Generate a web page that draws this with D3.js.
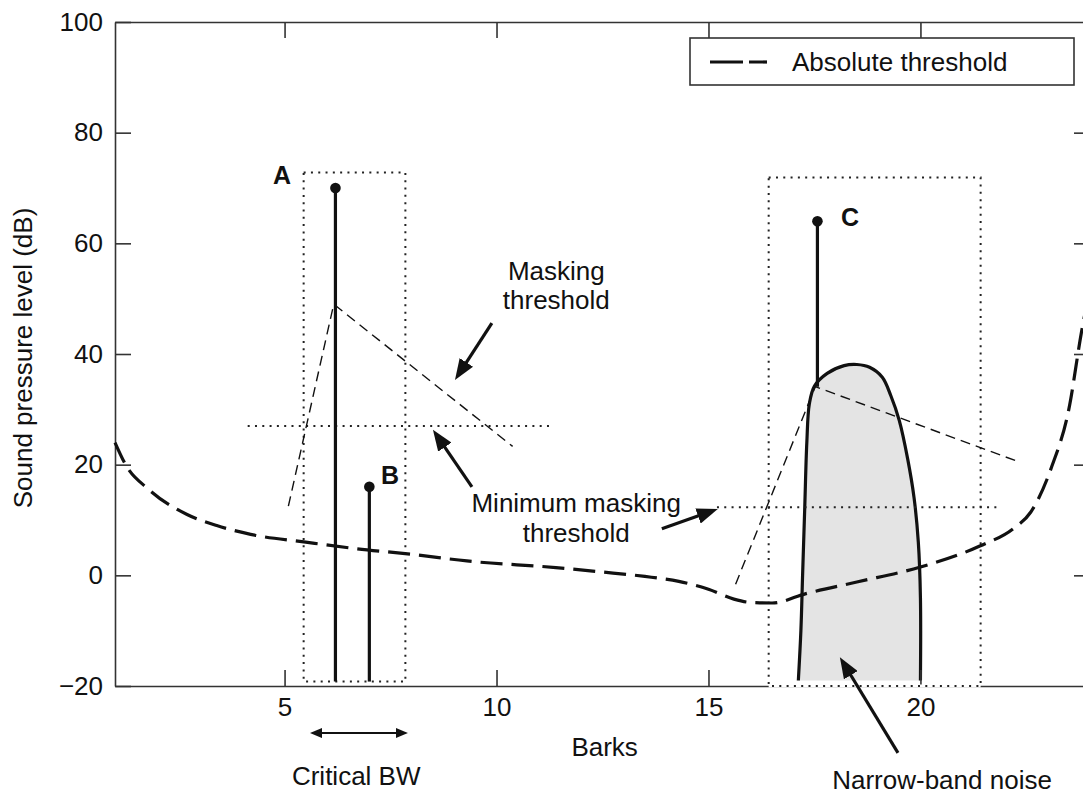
<!DOCTYPE html>
<html>
<head>
<meta charset="utf-8">
<script src="https://cdn.jsdelivr.net/npm/d3@7"></script>
<style>
  body { margin: 0; background: #fff; }
  svg text { font-family: "Liberation Sans", Arial, sans-serif; fill: #111; }
</style>
</head>
<body>
<svg id="chart" width="1083" height="796"></svg>
<script>
// Axes
const xTicks = [5, 10, 15, 20];
const yTicks = [-20, 0, 20, 40, 60, 80, 100];

// Absolute threshold of hearing (bark, dB)
const absBark = [1.0, 1.25, 1.8, 2.7, 3.4, 4.2, 5.5, 6.7, 8.0, 9.3, 11.4, 12.5, 13.5, 14.3, 15.0, 15.6, 16.0, 16.5, 17.3, 18.5, 20.0, 21.4, 22.2, 22.6, 23.1, 23.5, 23.8, 24.0];
const absDb   = [24, 20, 15.5, 11, 9, 7.4, 6, 4.8, 3.8, 2.6, 1.4, 0.6, -0.2, -1.1, -2.5, -4.3, -4.9, -5, -3.3, -1.2, 1.5, 5.3, 8.5, 11.4, 19.7, 30, 44, 52];

// Tones A, B, C
const toneLabels = ['A', 'B', 'C'];
const toneBark   = [6.2, 7.0, 17.57];
const toneDb     = [70, 16, 64];
const toneBase   = [-19.2, -19.2, 34.1];

// Masking thresholds (thin dashed)
const maskABark = [5.09, 6.16, 10.38];
const maskADb   = [12.5, 49, 23.3];
const maskCBark = [15.64, 17.52, 22.36];
const maskCDb   = [-1.6, 34.1, 20.4];

// Minimum masking thresholds (dotted): [from bark, to bark, dB]
const minMaskA = [4.13, 11.3, 27];
const minMaskC = [15.2, 21.9, 12.3];

// Critical band boxes: [bark left, bark right, dB bottom, dB top]
const boxAB = [5.45, 7.85, -19.2, 72.8];
const boxC  = [16.42, 21.42, -20, 71.9];

// Narrow-band noise outline
const noiseBark = [17.12, 17.18, 17.22, 17.27, 17.32, 17.38, 17.5, 17.8, 18.2, 18.5, 18.8, 19.1, 19.3, 19.5, 19.7, 19.85, 19.95, 20.0, 20.0];
const noiseDb   = [-19, -10, 0, 12, 24, 31, 34.2, 36.5, 37.9, 38.1, 37.6, 35.8, 32.5, 28, 21, 14, 6, -4, -19];

const svg = d3.select('#chart');
const x = d3.scaleLinear().domain([1, 24]).range([115, 1090]);
const y = d3.scaleLinear().domain([-20, 100]).range([686, 22]);
const ink = '#111';

// marqueurs de flèches (la pointe dépasse la fin du trait de "cut" px)
const defs = svg.append('defs');
function addMarker(id, len, wid, cut) {
    defs.append('marker').attr('id', id)
        .attr('viewBox', `0 0 ${len} ${wid}`)
        .attr('refX', len - cut).attr('refY', wid / 2)
        .attr('markerWidth', len).attr('markerHeight', wid)
        .attr('markerUnits', 'userSpaceOnUse')
        .attr('orient', 'auto-start-reverse')
        .append('path').attr('d', `M0,0L${len},${wid / 2}L0,${wid}Z`).attr('fill', ink);
}
addMarker('head', 21, 16, 10);
addMarker('headSmall', 12, 10, 6);

// Noise band (fill then outline)
const noisePts = noiseBark.map((b, i) => [b, noiseDb[i]]);
const smooth = d3.line().x(d => x(d[0])).y(d => y(d[1])).curve(d3.curveCatmullRom.alpha(0.5));
svg.append('path').attr('d', smooth(noisePts) + 'Z')
    .attr('fill', '#e4e4e4').attr('stroke', 'none');
svg.append('path').attr('d', smooth(noisePts))
    .attr('fill', 'none').attr('stroke', ink).attr('stroke-width', 3.2);

// Axes frame
function styleAxis(g) {
    g.attr('color', '#333').attr('font-size', 26)
        .attr('font-family', '"Liberation Sans", Arial, sans-serif');
    g.select('.domain').attr('stroke-width', 1.6);
    g.selectAll('.tick line').attr('stroke-width', 1.6);
    g.selectAll('.tick text').attr('fill', ink);
}
svg.append('g').attr('transform', `translate(0,${y(-20)})`)
    .call(d3.axisBottom(x).tickValues(xTicks).tickSizeInner(-16).tickSizeOuter(0).tickPadding(12))
    .call(styleAxis);
svg.append('g').attr('transform', `translate(0,${y(100)})`)
    .call(d3.axisTop(x).tickValues(xTicks).tickSizeInner(-16).tickSizeOuter(0).tickFormat(''))
    .call(styleAxis);
svg.append('g').attr('transform', `translate(${x(1)},0)`)
    .call(d3.axisLeft(y).tickValues(yTicks).tickSizeInner(-16).tickSizeOuter(0).tickPadding(12))
    .call(styleAxis);
svg.append('g').attr('transform', `translate(${x(24)},0)`)
    .call(d3.axisRight(y).tickValues(yTicks.slice(1, -1)).tickSizeInner(-16).tickSizeOuter(0).tickFormat(''))
    .call(styleAxis);

// axis hidden under box C bottom
svg.append('line')
    .attr('x1', x(boxC[0])).attr('x2', x(boxC[1]))
    .attr('y1', y(-20)).attr('y2', y(-20))
    .attr('stroke', '#fff').attr('stroke-width', 3);

// Dotted boxes
const dot = g => g.attr('fill', 'none').attr('stroke', '#222').attr('stroke-width', 2).attr('stroke-dasharray', '2,5.3');
[boxAB, boxC].forEach(b => {
    svg.append('rect')
        .attr('x', x(b[0])).attr('y', y(b[3]))
        .attr('width', x(b[1]) - x(b[0])).attr('height', y(b[2]) - y(b[3]))
        .call(dot);
});

// Minimum masking thresholds
[minMaskA, minMaskC].forEach(m => {
    svg.append('line')
        .attr('x1', x(m[0])).attr('x2', x(m[1]))
        .attr('y1', y(m[2])).attr('y2', y(m[2]))
        .call(dot);
});

// Masking thresholds
const straight = d3.line().x(d => x(d[0])).y(d => y(d[1]));
[[maskABark, maskADb], [maskCBark, maskCDb]].forEach(([bs, ds]) => {
    svg.append('path').attr('d', straight(bs.map((b, i) => [b, ds[i]])))
        .attr('fill', 'none').attr('stroke', ink).attr('stroke-width', 1.4)
        .attr('stroke-dasharray', '10,6');
});

// Absolute threshold
const absLine = d3.line().x(d => x(d[0])).y(d => y(d[1])).curve(d3.curveMonotoneX);
svg.append('path').attr('d', absLine(absBark.map((b, i) => [b, absDb[i]])))
    .attr('fill', 'none').attr('stroke', ink).attr('stroke-width', 3.2)
    .attr('stroke-dasharray', '22,9');

// Tones (stems + dots)
toneBark.forEach((b, i) => {
    svg.append('line')
        .attr('x1', x(b)).attr('x2', x(b))
        .attr('y1', y(toneBase[i])).attr('y2', y(toneDb[i]))
        .attr('stroke', ink).attr('stroke-width', 3.2);
    svg.append('circle').attr('cx', x(b)).attr('cy', y(toneDb[i])).attr('r', 5.3).attr('fill', ink);
});

// Tone labels
const toneLabelPos = [[4.94, 70.7], [7.49, 16.5], [18.34, 63.1]];
toneLabels.forEach((t, i) => {
    svg.append('text').attr('x', x(toneLabelPos[i][0])).attr('y', y(toneLabelPos[i][1]))
        .attr('text-anchor', 'middle').attr('font-size', 25).attr('font-weight', 'bold')
        .text(t);
});

// Arrows
function arrow(from, to, marker, width, both) {
    const x1 = x(from[0]), y1 = y(from[1]), x2 = x(to[0]), y2 = y(to[1]);
    const len = Math.hypot(x2 - x1, y2 - y1);
    const cut = marker === 'head' ? 10 : 6;
    const ux = (x2 - x1) / len, uy = (y2 - y1) / len;
    svg.append('line')
        .attr('x1', both ? x1 + ux * cut : x1).attr('y1', both ? y1 + uy * cut : y1)
        .attr('x2', x2 - ux * cut).attr('y2', y2 - uy * cut)
        .attr('stroke', ink).attr('stroke-width', width)
        .attr('marker-end', `url(#${marker})`)
        .attr('marker-start', both ? `url(#${marker})` : null);
}
arrow([9.89, 45.6], [9.02, 35.3], 'head', 3.2);
arrow([9.42, 16.0], [8.50, 26.3], 'head', 3.2);
arrow([13.90, 8.4], [15.22, 12.0], 'head', 3.2);
arrow([19.47, -32.1], [18.10, -14.8], 'head', 3.2);
arrow([5.6, -28.5], [7.91, -28.5], 'headSmall', 2, true);

// Annotations
const notes = [
    ['Masking', 11.41, 53.4],
    ['threshold', 11.41, 48.2],
    ['Minimum masking', 11.88, 11.4],
    ['threshold', 11.88, 6.0],
    ['Critical BW', 6.69, -37.9],
    ['Narrow-band noise', 20.51, -38.6],
    ['Barks', 12.55, -32.6]
];
notes.forEach(n => {
    svg.append('text').attr('x', x(n[1])).attr('y', y(n[2]))
        .attr('text-anchor', 'middle').attr('font-size', 26).text(n[0]);
});

// Y axis title
svg.append('text')
    .attr('transform', `translate(32,${(y(-20) + y(100)) / 2 + 4}) rotate(-90)`)
    .attr('text-anchor', 'middle').attr('font-size', 26)
    .text('Sound pressure level (dB)');

// Legend
const legend = svg.append('g');
legend.append('rect').attr('x', 690).attr('y', 38).attr('width', 384).attr('height', 47)
    .attr('fill', '#fff').attr('stroke', '#333').attr('stroke-width', 1.6);
legend.append('line').attr('x1', 710).attr('x2', 767).attr('y1', 62).attr('y2', 62)
    .attr('stroke', ink).attr('stroke-width', 3.2).attr('stroke-dasharray', '33,6');
legend.append('text').attr('x', 792).attr('y', 71).attr('font-size', 26).text('Absolute threshold');
</script>
</body>
</html>
